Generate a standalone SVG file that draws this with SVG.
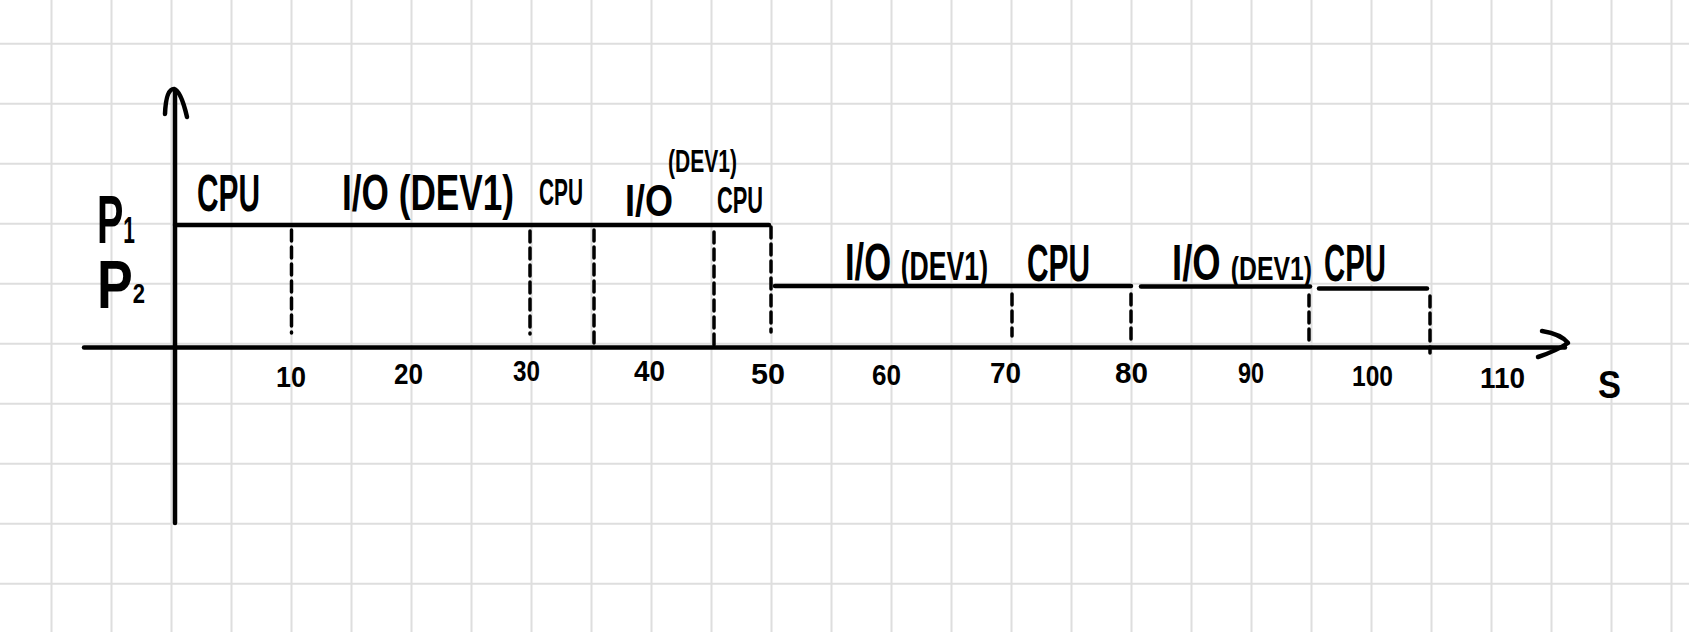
<svg xmlns="http://www.w3.org/2000/svg" width="1689" height="632" viewBox="0 0 1689 632">
<style>
.grid{stroke:#dedede;stroke-width:2;fill:none}
.ax{stroke:#000;stroke-width:4.5;fill:none;stroke-linecap:round;stroke-linejoin:round}
.ln{stroke:#000;stroke-width:4.5;fill:none;stroke-linecap:round}
.dash{stroke:#000;stroke-width:3.5;fill:none;stroke-dasharray:11 6;stroke-linecap:round}
.t{font-family:"Liberation Sans","DejaVu Sans",sans-serif;font-weight:bold;fill:#000}
.tk{font-family:"Liberation Sans","DejaVu Sans",sans-serif;font-weight:bold;fill:#000;font-size:30px;text-anchor:start}
</style>
<rect width="1689" height="632" fill="#fff"/>
<path class="grid" d="M51.5,0V632M111.5,0V632M171.5,0V632M231.5,0V632M291.5,0V632M351.5,0V632M411.5,0V632M471.5,0V632M531.5,0V632M591.5,0V632M651.5,0V632M711.5,0V632M771.5,0V632M831.5,0V632M891.5,0V632M951.5,0V632M1011.5,0V632M1071.5,0V632M1131.5,0V632M1191.5,0V632M1251.5,0V632M1311.5,0V632M1371.5,0V632M1431.5,0V632M1491.5,0V632M1551.5,0V632M1611.5,0V632M1671.5,0V632M0,43.8H1689M0,103.8H1689M0,163.8H1689M0,223.8H1689M0,283.8H1689M0,343.8H1689M0,403.8H1689M0,463.8H1689M0,523.8H1689M0,583.8H1689"/>
<g id="axes">
<path class="ax" d="M175,523V92"/>
<path class="ax" d="M165,114 Q166,89 174,89 Q181,91 187,117"/>
<path class="ax" d="M84,347.5H1565"/>
<path class="ax" d="M1542,331 Q1561,334 1568,343 Q1556,351 1538,357"/>
</g>
<g id="connectors">
<path class="ln" d="M175,225H769"/>
<path class="ln" d="M775,286H1131"/>
<path class="ln" d="M1141,286.5H1310"/>
<path class="ln" d="M1319,288.5H1427"/>
<path class="dash" d="M291.5,230V333"/>
<path class="dash" d="M530,231V334"/>
<path class="dash" d="M594,230V346"/>
<path class="dash" d="M714,232V350"/>
<path class="dash" d="M771,227V332"/>
<path class="dash" d="M1012,294V336"/>
<path class="dash" d="M1131,294V342"/>
<path class="dash" d="M1309,295V346"/>
<path class="dash" d="M1430,296V353"/>
</g>
<g id="labels-y">
<text class="t" x="97" y="243" font-size="68" textLength="38" lengthAdjust="spacingAndGlyphs">P<tspan font-size="36">1</tspan></text>
<text class="t" x="97" y="308" font-size="68" textLength="48" lengthAdjust="spacingAndGlyphs">P<tspan font-size="28" dy="-5">2</tspan></text>
</g>
<g id="labels-p1">
<text class="t" x="197" y="211" font-size="52" textLength="63" lengthAdjust="spacingAndGlyphs">CPU</text>
<text class="t" x="342" y="210" font-size="50" textLength="172" lengthAdjust="spacingAndGlyphs">I/O (DEV1)</text>
<text class="t" x="539" y="205" font-size="37" textLength="44" lengthAdjust="spacingAndGlyphs">CPU</text>
<text class="t" x="625" y="216" font-size="44" textLength="48" lengthAdjust="spacingAndGlyphs">I/O</text>
<text class="t" x="668" y="172" font-size="31" textLength="69" lengthAdjust="spacingAndGlyphs">(DEV1)</text>
<text class="t" x="717" y="213" font-size="36" textLength="46" lengthAdjust="spacingAndGlyphs">CPU</text>
</g>
<g id="labels-p2">
<text class="t" x="845" y="280" font-size="52" textLength="143" lengthAdjust="spacingAndGlyphs">I/O <tspan font-size="40">(DEV1)</tspan></text>
<text class="t" x="1027" y="281" font-size="52" textLength="63" lengthAdjust="spacingAndGlyphs">CPU</text>
<text class="t" x="1172" y="280" font-size="50" textLength="140" lengthAdjust="spacingAndGlyphs">I/O <tspan font-size="34">(DEV1)</tspan></text>
<text class="t" x="1324" y="281" font-size="52" textLength="62" lengthAdjust="spacingAndGlyphs">CPU</text>
</g>
<g id="ticks">
<text class="tk" x="276" y="387" textLength="30" lengthAdjust="spacingAndGlyphs">10</text>
<text class="tk" x="394" y="384" textLength="29" lengthAdjust="spacingAndGlyphs">20</text>
<text class="tk" x="513" y="381" textLength="27" lengthAdjust="spacingAndGlyphs">30</text>
<text class="tk" x="634" y="381" textLength="31" lengthAdjust="spacingAndGlyphs">40</text>
<text class="tk" x="751" y="384" textLength="34" lengthAdjust="spacingAndGlyphs">50</text>
<text class="tk" x="872" y="385" textLength="29" lengthAdjust="spacingAndGlyphs">60</text>
<text class="tk" x="990" y="383" textLength="31" lengthAdjust="spacingAndGlyphs">70</text>
<text class="tk" x="1115" y="383" textLength="33" lengthAdjust="spacingAndGlyphs">80</text>
<text class="tk" x="1238" y="383" textLength="26" lengthAdjust="spacingAndGlyphs">90</text>
<text class="tk" x="1352" y="386" textLength="41" lengthAdjust="spacingAndGlyphs">100</text>
<text class="tk" x="1480" y="388" textLength="45" lengthAdjust="spacingAndGlyphs">110</text>
<text class="t" x="1598" y="398" font-size="38" textLength="23" lengthAdjust="spacingAndGlyphs">S</text>
</g>
</svg>
